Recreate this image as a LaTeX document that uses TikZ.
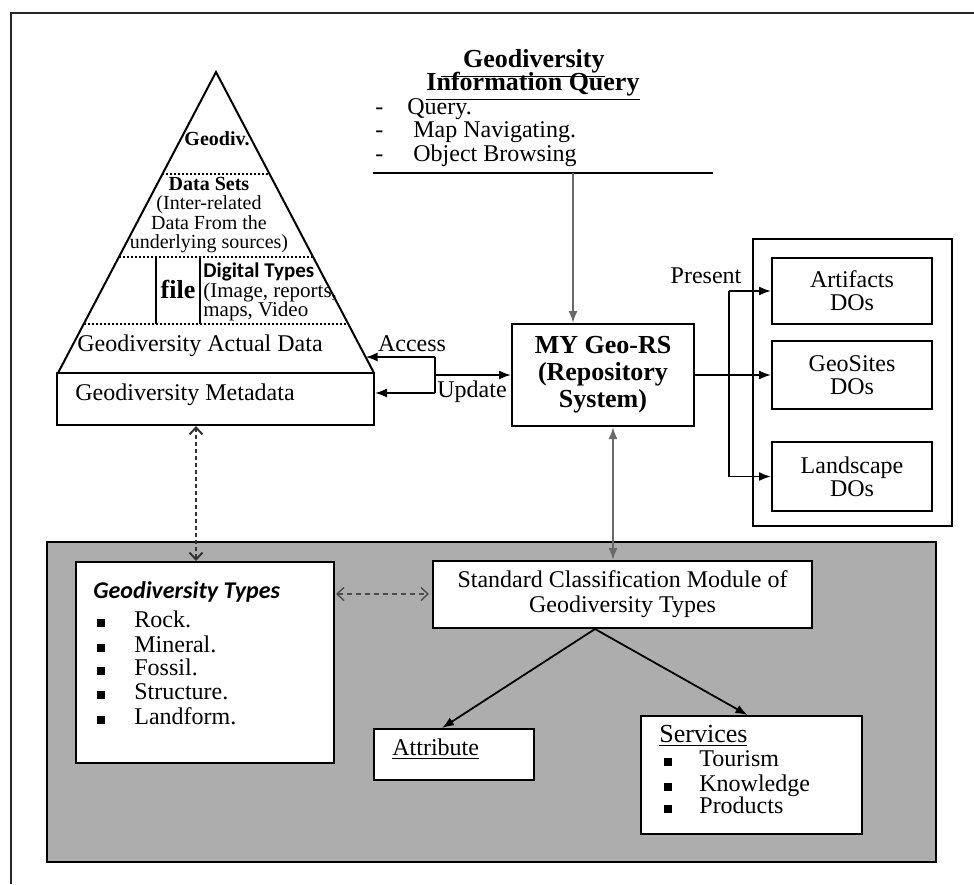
\documentclass[tikz,border=0pt]{standalone}
\usepackage{fontspec}
\setmainfont{Liberation Serif}
\newfontfamily\carl{Carlito}
\usetikzlibrary{arrows.meta,calc}
\definecolor{greyfill}{RGB}{173,173,173}
\definecolor{gline}{RGB}{105,105,105}
\newcommand{\fz}[2]{\fontsize{#1}{#2}\selectfont}
\begin{document}
\begin{tikzpicture}[x=0.5pt,y=-0.5pt,
  box/.style={draw,line width=1pt,fill=white,inner sep=0pt},
  lbl/.style={inner sep=0pt,text height=1.5ex,text depth=.25ex},
  arr/.style={line width=0.9pt,-{Latex[length=6pt,width=4.5pt]}},
  garr/.style={line width=1pt,draw=gline,-{Latex[length=6pt,width=4.5pt]}},
  darr/.style={line width=1pt,draw=black!80,dash pattern=on 2pt off 1.5pt,
    {Straight Barb[length=3.5pt,width=6.5pt]}-{Straight Barb[length=3.5pt,width=6.5pt]}},
  dsarr/.style={line width=0.7pt,draw=black!70,dash pattern=on 2.5pt off 2pt,
    {Straight Barb[length=3.5pt,width=6.5pt]}-{Straight Barb[length=3.5pt,width=6.5pt]}},
  bul/.style={fill=black,inner sep=0pt,minimum size=4pt},
  dotline/.style={line width=0.8pt,dash pattern=on 1pt off 1pt}
]
\useasboundingbox (0,0) rectangle (974,884);
% outer frame (top and left)
\draw[line width=1pt,black!85] (11,884) -- (11,13) -- (974,13);

% ---------- query block ----------
\node[lbl,anchor=east,font=\fz{13}{15}\bfseries] (qt1) at (605,62) {\underline{\hspace{11pt}Geodiversity}};
\node[lbl,font=\fz{13}{15}\bfseries] (qt2) at (533,85) {\underline{Information Query}};
\node[lbl,anchor=west,font=\fz{12}{14}] (q1) at (375,109) {-\hspace{12pt}Query.};
\node[lbl,anchor=west,font=\fz{12}{14}] (q2) at (375,132) {-\hspace{15pt}Map Navigating.};
\node[lbl,anchor=west,font=\fz{12}{14}] (q3) at (375,156) {-\hspace{15pt}Object Browsing};
\coordinate (ql) at (373,173);
\coordinate (qr) at (713,173);
\draw[line width=1pt] (ql) -- (qr);

% ---------- pyramid ----------
\coordinate (apex) at (216,72);
\coordinate (bl) at (58,373);
\coordinate (br) at (374,373);
\draw[line width=1pt,fill=white] (bl) -- (apex) -- (br);
\foreach \f in {0.339,0.615,0.837}
  \draw[dotline] ($(apex)!\f!(bl)$) -- ($(apex)!\f!(br)$);
\draw[line width=1pt] (156,257) -- (156,324);
\draw[line width=1pt] (200,257) -- (200,324);
\node[lbl,font=\fz{10}{10}\bfseries] (geodiv) at (217,140) {Geodiv.};
\node[inner sep=0pt,align=center,font=\fz{10}{9.75}] (dsets) at (209,215)
  {\textbf{Data Sets}\\(Inter-related\\Data From the\\underlying sources)};
\node[lbl,font=\fz{13}{13}\bfseries] (file) at (178,293) {file};
\node[lbl,anchor=west,font=\carl\fz{10.5}{10}\bfseries] (dt1) at (203,272) {Digital Types};
\node[lbl,anchor=west,font=\fz{10.5}{10}] (dt2) at (203,292) {(Image, reports,};
\node[lbl,anchor=west,font=\fz{10.5}{10}] (dt3) at (203,311) {maps, Video};
\node[lbl,anchor=west,font=\fz{12}{14}] (actual) at (77,346) {Geodiversity Actual Data};

% metadata box
\node[box,minimum width=158.5pt,minimum height=26pt] (meta) at (215.5,399) {};
\node[lbl,anchor=west,font=\fz{12}{14}] (metat) at (75,395) {Geodiversity Metadata};

% ---------- repository ----------
\node[box,minimum width=91pt,minimum height=51pt,align=center,font=\fz{13}{13.5}\bfseries]
  (geors) at (603,375) {MY Geo-RS\\(Repository\\System)};
\coordinate (qb) at (573,173);
\draw[garr] (qb) -- (qb |- geors.north);

% access / update
\coordinate (jA) at (435,357);
\coordinate (jU) at (435,393);
\coordinate (jM) at (435,375);
\coordinate (accp) at ($(apex)!0.947!(br)$);
\draw[arr] (jA) -- (jA -| accp);
\draw[line width=0.9pt] (jA) -- (jU);
\draw[arr] (jU) -- (jU -| meta.east);
\draw[arr] (jM) -- (jM -| geors.west);
\node[lbl,font=\fz{12}{14}] (acct) at (412,346) {Access};
\node[lbl,font=\fz{12}{14}] (updt) at (472,392) {Update};

% ---------- digital objects ----------
\node[box,minimum width=99.5pt,minimum height=143.5pt] (cont) at (852.5,382.5) {};
\node[box,minimum width=80pt,minimum height=33pt,align=center,font=\fz{12}{11.5}] (art) at (852,291) {Artifacts\\DOs};
\node[box,minimum width=80pt,minimum height=34pt,align=center,font=\fz{12}{11.5}] (geos) at (852,375) {GeoSites\\DOs};
\node[box,minimum width=80pt,minimum height=34.5pt,align=center,font=\fz{12}{11.5}] (land) at (852,476.5) {Landscape\\DOs};
\coordinate (pt) at (729,291);
\coordinate (pb) at (729,476.5);
\draw[line width=0.9pt] (pt) -- (pb);
\draw[arr] (pt) -- (pt -| art.west);
\draw[arr] (pb) -- (pb -| land.west);
\draw[arr] (geors.east) -- (geos.west);
\node[lbl,font=\fz{12}{14}] (pres) at (706,278) {Present};

% ---------- grey module ----------
\node[draw,line width=1pt,fill=greyfill,inner sep=0pt,minimum width=444.5pt,minimum height=160pt] (grey) at (491.5,702) {};

\node[box,minimum width=129pt,minimum height=100.5pt] (gtypes) at (205,662.5) {};
\node[lbl,anchor=west,font=\carl\fz{12}{14}\bfseries\itshape] (gtt) at (93,593) {Geodiversity Types};
\foreach \y/\t [count=\i] in {622/Rock., 647/Mineral., 670/Fossil., 694/Structure., 719/Landform.}{
  \node[bul] (gb\i) at (100.5,\y+1) {};
  \node[lbl,anchor=west,font=\fz{12}{14}] (gi\i) at (134,\y) {\t};
}

\node[box,minimum width=189.5pt,minimum height=33.5pt,align=center,font=\fz{12}{12.5}] (std) at (622.5,594.5)
  {Standard Classification Module of\\Geodiversity Types};
\node[box,minimum width=80pt,minimum height=25.5pt] (attr) at (454,754.5) {};
\node[lbl,anchor=west,font=\fz{12}{14}] (attrt) at (392,750) {\underline{Attribute}};

\node[box,minimum width=110.5pt,minimum height=59pt] (serv) at (751.5,775) {};
\node[lbl,anchor=west,font=\fz{13}{14}] (servt) at (659,737) {\underline{Services}};
\foreach \y/\t [count=\i] in {761/Tourism, 786/Knowledge, 808/Products}{
  \node[bul] (sb\i) at (668,\y+1) {};
  \node[lbl,anchor=west,font=\fz{12}{14}] (si\i) at (699,\y) {\t};
}

% connectors in grey area
\coordinate (gbot) at ($(geors.south)+(10,0)$);
\draw[garr,{Latex[length=6pt,width=4.5pt]}-{Latex[length=6pt,width=4.5pt]}] (gbot) -- (gbot |- std.north);
\coordinate (mdot) at ($(meta.south)+(-19.5,0)$);
\draw[darr] (mdot) -- (mdot |- gtypes.north);
\coordinate (dl) at (336,594);
\draw[dsarr] (dl) -- ($(dl -| std.west)+(-3,0)$);
\coordinate (sbot) at ($(std.south)+(-27.5,0)$);
\draw[arr] (sbot) -- ($(attr.north)+(-12,0)$);
\draw[arr] (sbot) -- ($(serv.north)+(-4,0)$);
\end{tikzpicture}
\end{document}
